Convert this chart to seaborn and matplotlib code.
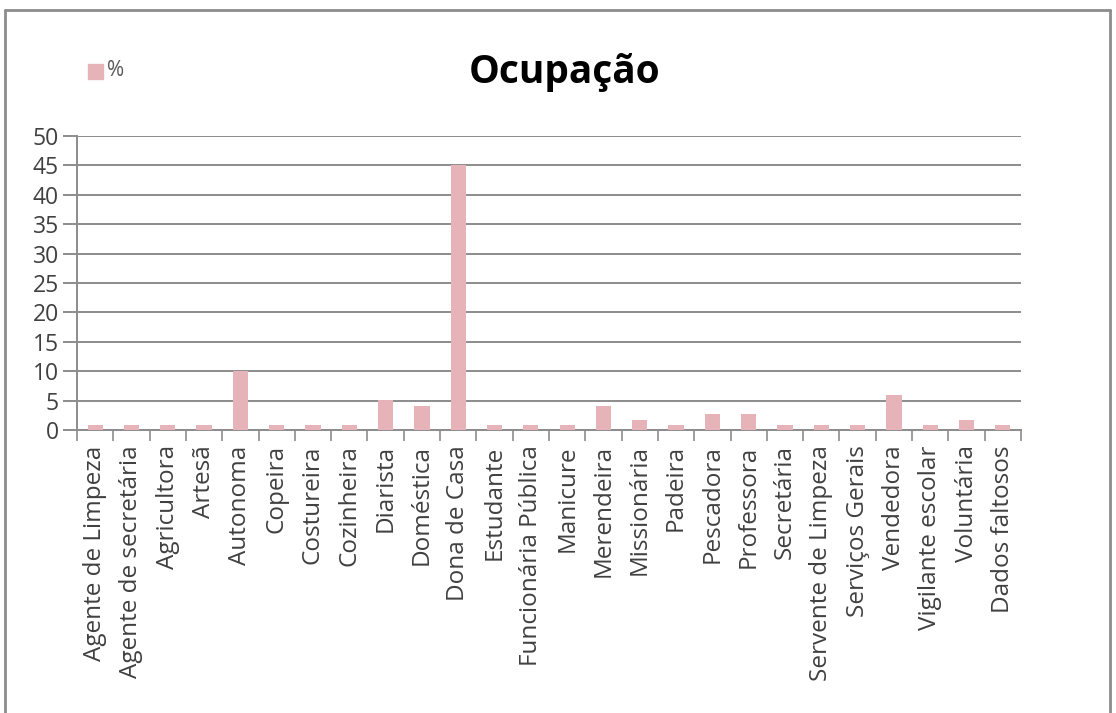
import matplotlib
matplotlib.use("Agg")
import matplotlib.pyplot as plt
import seaborn as sns
import pandas as pd
from matplotlib.patches import Rectangle
from matplotlib.lines import Line2D

categories = ["Agente de Limpeza", "Agente de secretária", "Agricultora", "Artesã",
              "Autonoma", "Copeira", "Costureira", "Cozinheira", "Diarista",
              "Doméstica", "Dona de Casa", "Estudante", "Funcionária Pública",
              "Manicure", "Merendeira", "Missionária", "Padeira", "Pescadora",
              "Professora", "Secretária", "Servente de Limpeza", "Serviços Gerais",
              "Vendedora", "Vigilante escolar", "Voluntária", "Dados faltosos"]
values = [0.8, 0.8, 0.8, 0.8, 10.1, 0.8, 0.8, 0.8, 5.1, 4.0, 45.0, 0.8, 0.8,
          0.8, 4.0, 1.7, 0.8, 2.8, 2.8, 0.8, 0.8, 0.8, 6.0, 0.8, 1.7, 0.8]
yticks = [0, 5, 10, 15, 20, 25, 30, 35, 40, 45, 50]
series_name = "%"
title = "Ocupação"

bar_color = "#E6B3B8"
grid_color = "#8C8C8C"
text_color = "#404040"

sns.set_theme(style="white")
plt.rcParams["font.family"] = ["Open Sans", "DejaVu Sans"]

df = pd.DataFrame({"cat": categories, "val": values})

fig = plt.figure(figsize=(11.16, 7.13), dpi=100)
ax = fig.add_axes([77/1116, (713-430)/713, (1021-77)/1116, (430-136)/713])

sns.barplot(data=df, x="cat", y="val", color=bar_color, width=0.42,
            saturation=1, linewidth=0, edgecolor="none", ax=ax, zorder=3)

n = len(categories)
ax.set_xlim(-0.5, n - 0.5)
ax.set_ylim(0, 50)
ax.set_yticks(yticks)
ax.set_yticklabels([str(v) for v in yticks], fontsize=16.5, color=text_color)
for v in yticks:
    ax.axhline(v, color=grid_color, lw=1.4, zorder=1)

ax.set_xticks(range(n))
ax.set_xticklabels(categories, rotation=90, fontsize=17.5, color=text_color)
ax.tick_params(axis="x", length=0, pad=11)
ax.tick_params(axis="y", length=10, width=1.4, color=grid_color, pad=3, left=True)
# category boundary tick marks
ax.set_xticks([i - 0.5 for i in range(n + 1)], minor=True)
ax.tick_params(axis="x", which="minor", length=8, width=1.2, color=grid_color, bottom=True)

ax.set_xlabel("")
ax.set_ylabel("")
for side in ["top", "right"]:
    ax.spines[side].set_visible(False)
ax.spines["left"].set_color(grid_color)
ax.spines["left"].set_linewidth(1.4)
ax.spines["bottom"].set_color(grid_color)
ax.spines["bottom"].set_linewidth(1.4)

fig.text(565/1116, 1 - 72/713, title, ha="center", va="center",
         fontsize=28, fontweight="bold", color="black")

# legend
fig.patches.append(Rectangle((88/1116, 1 - 79/713), 15/1116, 15/713,
                             transform=fig.transFigure, color=bar_color))
fig.text(107/1116, 1 - 71/713, series_name, ha="left", va="center",
         fontsize=15, color="#595959")

# outer border
for (x0, y0, x1, y1) in [(5, 10, 5, 713), (5, 10, 1110, 10), (1110, 10, 1110, 713)]:
    fig.lines.append(Line2D([x0/1116, x1/1116], [1 - y0/713, 1 - y1/713],
                            transform=fig.transFigure, color="#8C8C8C", lw=2))

fig.savefig("out.png", dpi=100)
